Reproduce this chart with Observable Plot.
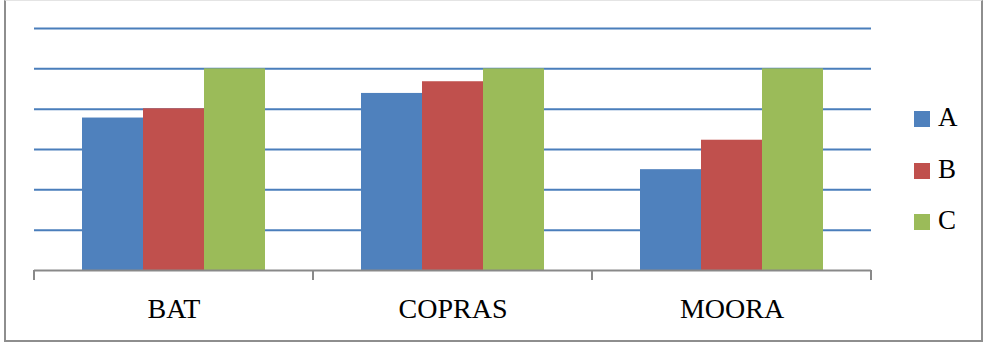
<!DOCTYPE html>
<html>
<head>
<meta charset="utf-8">
<script src="https://cdn.jsdelivr.net/npm/d3@7"></script>
<script src="https://cdn.jsdelivr.net/npm/@observablehq/plot@0.6"></script>
<style>
  html, body { margin: 0; padding: 0; background: #fff; }
  #wrap { position: relative; width: 985px; height: 347px; overflow: hidden; font-family: "Liberation Serif", serif; }
  #frame { position: absolute; left: 4px; top: 0px; width: 979px; height: 342px; box-sizing: border-box;
           border: 2px solid #8e8e8e; border-top: 1px solid #e4e4e4; pointer-events: none; }
  #legend { position: absolute; left: 914px; top: 111px; }
  .row { position: absolute; left: 0; height: 17px; white-space: nowrap; }
  .sw { position: absolute; left: 0; top: 0; width: 16px; height: 16px; }
  .lab { position: absolute; left: 24px; top: -10px; font-size: 27px; line-height: 32px; color: #000; }
</style>
</head>
<body>
<div id="wrap"><div id="frame"></div><div id="legend"></div></div>
<script>
const categories = ["BAT", "COPRAS", "MOORA"];
const seriesNames = ["A", "B", "C"];
const valuesA = [0.756, 0.878, 0.50];
const valuesB = [0.802, 0.936, 0.646];
const valuesC = [1.0, 1.0, 1.0];
const gridTicks = [0.2, 0.4, 0.6, 0.8, 1.0, 1.2];
const colors = ["#4f81bd", "#c0504d", "#9bbb59"];

const seriesValues = [valuesA, valuesB, valuesC];
const data = [];
categories.forEach((c, i) => {
  seriesNames.forEach((s, j) => data.push({cat: c, series: s, value: seriesValues[j][i]}));
});

const W = 985, H = 347, mL = 34, mR = 114, mT = 28, mB = 77;

const plot = Plot.plot({
  width: W,
  height: H,
  marginLeft: mL,
  marginRight: mR,
  marginTop: mT,
  marginBottom: mB,
  style: {fontFamily: "'Liberation Serif', serif", background: "transparent", color: "#000"},
  fx: {domain: categories, padding: 0, label: null},
  x: {domain: seriesNames, paddingInner: 0, paddingOuter: 0.76, axis: null},
  y: {domain: [0, 1.2], axis: null},
  color: {domain: seriesNames, range: colors},
  marks: [
    Plot.ruleY(gridTicks, {stroke: "#4a7ebb", strokeWidth: 2}),
    Plot.barY(data, {fx: "cat", x: "series", y: "value", fill: "series", inset: 0}),
    Plot.ruleY([0], {stroke: "#898989", strokeWidth: 2}),
    Plot.axisFx({anchor: "bottom", tickSize: 0, tickPadding: 28, fontSize: 28, label: null, fill: "#000"})
  ]
});

document.getElementById("wrap").appendChild(plot);
plot.style.position = "absolute";
plot.style.left = "0px";
plot.style.top = "0px";

// category boundary ticks on the baseline, placed with Plot's own scales
const fx = plot.scale("fx");
const ys = plot.scale("y");
const y0 = ys.apply(0);
const edges = categories.map(c => fx.apply(c));
edges.push(fx.apply(categories[categories.length - 1]) + fx.bandwidth);
d3.select(plot).append("g")
  .selectAll("line").data(edges).join("line")
  .attr("x1", d => d).attr("x2", d => d)
  .attr("y1", y0).attr("y2", y0 + 10)
  .attr("stroke", "#898989").attr("stroke-width", 2);

// legend
const color = plot.scale("color");
const legend = d3.select("#legend");
seriesNames.forEach((s, i) => {
  const row = legend.append("div").attr("class", "row").style("top", (i * 51.5) + "px");
  row.append("div").attr("class", "sw").style("background", color.apply(s));
  row.append("div").attr("class", "lab").text(s);
});
</script>
</body>
</html>
